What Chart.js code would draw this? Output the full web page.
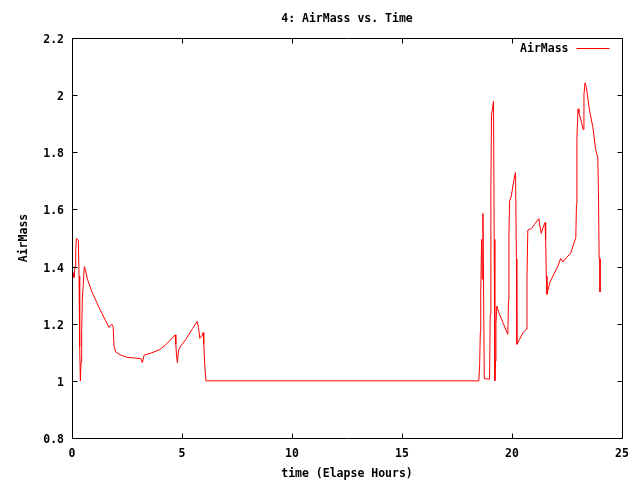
<!DOCTYPE html>
<html>
<head>
<meta charset="utf-8">
<script src="https://cdn.jsdelivr.net/npm/chart.js@4.4.1/dist/chart.umd.min.js"></script>
<style>
  html, body { margin: 0; padding: 0; background: #ffffff; }
  #wrap { width: 640px; height: 480px; }
</style>
</head>
<body>
<div id="wrap"><canvas id="c" width="640" height="480"></canvas></div>
<script>
const chartTitle = "4: AirMass vs. Time";
const xAxisTitle = "time (Elapse Hours)";
const yAxisTitle = "AirMass";
const seriesLabel = "AirMass";

const xTickValues = [0, 5, 10, 15, 20, 25];
const yTickValues = [0.8, 1.0, 1.2, 1.4, 1.6, 1.8, 2.0, 2.2];

const hours = [
  0.05,0.09,0.14,0.17,0.20,0.26,0.29,0.32,0.35,0.38,0.41,0.44,0.47,0.53,0.56,0.62,0.70,0.92,1.23,1.53,
  1.68,1.81,1.87,1.91,1.99,2.22,2.52,3.13,3.20,3.28,3.58,3.96,4.26,4.69,4.72,4.75,4.79,4.84,4.90,5.18,
  5.48,5.69,5.75,5.81,5.90,5.96,5.99,6.04,6.09,
  18.49,18.53,18.56,18.58,18.62,18.65,18.68,18.71,18.74,18.98,19.01,19.04,19.07,19.13,19.16,19.19,19.22,
  19.25,19.27,19.31,19.40,19.59,19.74,19.81,19.84,19.86,19.89,19.97,20.04,20.12,20.16,20.20,20.22,20.35,
  20.50,20.65,20.68,20.72,20.88,21.03,21.22,21.27,21.33,21.41,21.50,21.53,21.56,21.59,21.71,21.86,22.09,
  22.21,22.32,22.47,22.67,22.77,22.90,22.93,22.95,23.00,23.04,23.15,23.23,23.27,23.32,23.38,23.53,23.68,
  23.80,23.90,23.93,23.96,24.00,24.00
];

const airmass = [
  1.379,1.362,1.402,1.46,1.498,1.495,1.49,1.367,1.122,1.0,1.065,1.18,1.286,1.363,1.40,1.385,1.356,1.309,1.257,1.21,
  1.187,1.198,1.19,1.122,1.101,1.09,1.082,1.078,1.064,1.09,1.097,1.108,1.126,1.161,1.128,1.09,1.064,1.105,1.117,1.146,
  1.183,1.208,1.187,1.149,1.157,1.169,1.128,1.047,1.0,
  1.0,1.058,1.169,1.318,1.495,1.356,1.586,1.297,1.008,1.006,1.233,1.688,1.933,1.962,1.979,1.495,1.0,
  1.069,1.198,1.262,1.239,1.204,1.175,1.163,1.28,1.507,1.629,1.647,1.682,1.717,1.729,1.426,1.128,1.146,
  1.169,1.181,1.356,1.528,1.533,1.548,1.568,1.542,1.516,1.536,1.554,1.495,1.367,1.303,1.342,1.367,1.402,
  1.428,1.416,1.431,1.447,1.472,1.501,1.618,1.845,1.952,1.938,1.909,1.88,2.002,2.043,2.026,1.944,1.886,
  1.81,1.781,1.659,1.428,1.428,1.311
];

const points = hours.map((h, i) => ({ x: h, y: airmass[i] }));

const FONT = { family: "'DejaVu Sans Mono', 'Liberation Mono', monospace", size: 11.5, weight: 'bold', lineHeight: 1.2 };
const fmt = v => String(parseFloat(Number(v).toFixed(1)));

// gnuplot-style frame with inward ticks on all four sides, plus inset key
const framePlugin = {
  id: 'frame',
  afterDatasetsDraw(chart) {
    const { ctx, chartArea: a, scales } = chart;
    const L = Math.round(a.left) + 0.5, R = Math.round(a.right) + 0.5;
    const T = Math.round(a.top) + 0.5, B = Math.round(a.bottom) + 0.5;
    const tl = 5;
    ctx.save();
    ctx.strokeStyle = '#000';
    ctx.lineWidth = 1;
    ctx.beginPath();
    ctx.rect(L, T, R - L, B - T);
    xTickValues.forEach(v => {
      const px = Math.round(scales.x.getPixelForValue(v)) + 0.5;
      ctx.moveTo(px, B); ctx.lineTo(px, B - tl);
      ctx.moveTo(px, T); ctx.lineTo(px, T + tl);
    });
    yTickValues.forEach(v => {
      const py = Math.round(scales.y.getPixelForValue(v)) + 0.5;
      ctx.moveTo(L, py); ctx.lineTo(L + tl, py);
      ctx.moveTo(R, py); ctx.lineTo(R - tl, py);
    });
    ctx.stroke();

    // key
    const ds = chart.data.datasets[0];
    const ky = Math.round(a.top) + 10.5;
    ctx.font = `${FONT.weight} ${FONT.size}px ${FONT.family}`;
    ctx.fillStyle = '#000';
    ctx.textAlign = 'right';
    ctx.textBaseline = 'middle';
    ctx.fillText(ds.label, R - 54, ky + 1);
    ctx.strokeStyle = ds.borderColor;
    ctx.beginPath();
    ctx.moveTo(R - 46, ky);
    ctx.lineTo(R - 13, ky);
    ctx.stroke();
    ctx.restore();
  }
};

new Chart(document.getElementById('c'), {
  type: 'scatter',
  data: {
    datasets: [{
      label: seriesLabel,
      data: points,
      showLine: true,
      borderColor: '#ff0000',
      backgroundColor: '#ff0000',
      borderWidth: 1,
      pointRadius: 0,
      tension: 0,
      xAxisID: 'x',
      yAxisID: 'y'
    }]
  },
  options: {
    responsive: false,
    animation: false,
    devicePixelRatio: 1,
    layout: { padding: { left: 0, right: 18, top: 0, bottom: 0 } },
    plugins: {
      legend: { display: false },
      title: { display: false },
      tooltip: { enabled: false }
    },
    scales: {
      x: {
        type: 'linear',
        position: 'bottom',
        min: 0, max: 25,
        afterBuildTicks: s => { s.ticks = xTickValues.map(v => ({ value: v })); },
        ticks: { color: '#000', font: FONT, padding: 9, maxRotation: 0, autoSkip: false, callback: fmt },
        grid: { display: false, drawTicks: false },
        border: { display: false },
        title: { display: true, text: xAxisTitle, color: '#000', font: FONT, padding: { top: 0, bottom: -1 } },
        afterFit: s => { s.height = 42; }
      },
      xTop: {
        type: 'linear',
        position: 'top',
        min: 0, max: 25,
        ticks: { display: false },
        grid: { display: false, drawTicks: false },
        border: { display: false },
        title: { display: true, text: chartTitle, color: '#000', font: FONT, padding: { top: 12, bottom: 0 } },
        afterFit: s => { s.height = 38; }
      },
      y: {
        type: 'linear',
        position: 'left',
        min: 0.8, max: 2.2,
        afterBuildTicks: s => { s.ticks = yTickValues.map(v => ({ value: v })); },
        ticks: { color: '#000', font: FONT, padding: 8, labelOffset: 2, callback: fmt },
        grid: { display: false, drawTicks: false },
        border: { display: false },
        title: { display: true, text: yAxisTitle, color: '#000', font: FONT, padding: { top: 17, bottom: 0 } },
        afterFit: s => { s.width = 72; }
      }
    }
  },
  plugins: [framePlugin]
});
</script>
</body>
</html>
